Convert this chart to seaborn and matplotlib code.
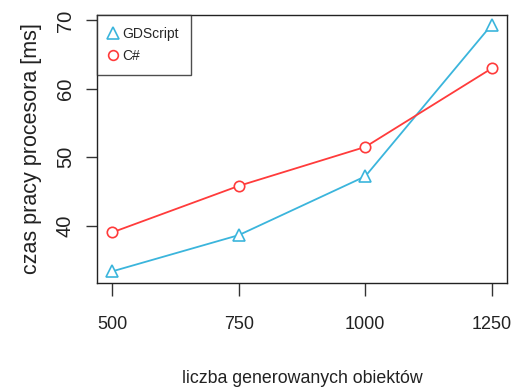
import matplotlib
matplotlib.use("Agg")
import matplotlib.pyplot as plt
from matplotlib.lines import Line2D
import seaborn as sns
import pandas as pd

objects = [500, 750, 1000, 1250]
gdscript = [33.3, 38.6, 47.2, 69.4]
csharp = [39.0, 45.8, 51.5, 63.0]
series_names = ["GDScript", "C#"]
x_ticks = [500, 750, 1000, 1250]
y_ticks = [40, 50, 60, 70]

sns.set_theme(style="white")
plt.rcParams["font.family"] = ["Liberation Sans", "DejaVu Sans"]

colors = {"GDScript": "#3bb5dc", "C#": "#ff3b3b"}
markers = {"GDScript": "^", "C#": "o"}
msizes = {"GDScript": 8.5, "C#": 7.5}

df = pd.concat([
    pd.DataFrame({"x": objects, "y": gdscript, "s": "GDScript"}),
    pd.DataFrame({"x": objects, "y": csharp, "s": "C#"}),
])

fig = plt.figure(figsize=(5.16, 3.89), dpi=100)
ax = fig.add_axes([0.188, 0.2725, 0.7946, 0.689])

for name in series_names:
    sub = df[df["s"] == name]
    sns.lineplot(data=sub, x="x", y="y", ax=ax, color=colors[name],
                 marker=markers[name], markersize=msizes[name], markerfacecolor="white",
                 markeredgecolor=colors[name], markeredgewidth=1.2,
                 linewidth=1.3, legend=False)

ax.set_xlim(470, 1280)
ax.set_ylim(31.6, 70.8)
ax.set_xticks(x_ticks)
ax.set_xticklabels([str(t) for t in x_ticks])
ax.set_yticks(y_ticks)
ax.set_yticklabels([str(t) for t in y_ticks], rotation=90, va="center")
ax.tick_params(axis="x", direction="out", length=9.5, width=1, color="#333333",
               labelsize=13, pad=14, bottom=True, labelcolor="#222222")
ax.tick_params(axis="y", direction="out", length=8, width=1, color="#333333",
               labelsize=14.5, pad=8, left=True, labelcolor="#222222")
for sp in ax.spines.values():
    sp.set_color("#222222")
    sp.set_linewidth(1.0)

ax.set_xlabel("liczba generowanych obiektów", fontsize=12.8, labelpad=27, color="#222222")
ax.set_ylabel("czas pracy procesora [ms]", fontsize=15.5, labelpad=10, color="#222222")

handles = [Line2D([], [], linestyle="none", marker=markers[n], markersize=msizes[n] - 0.5,
                  markerfacecolor="none", markeredgecolor=colors[n], markeredgewidth=1.2)
           for n in series_names]
leg = ax.legend(handles, series_names, loc="upper left", borderaxespad=0,
                fancybox=False, frameon=True, fontsize=10, handlelength=0.6,
                handletextpad=0.4, borderpad=0.85, labelspacing=0.6)
leg.get_frame().set_edgecolor("#222222")
leg.get_frame().set_linewidth(1.0)

fig.savefig("out.png", dpi=100)
